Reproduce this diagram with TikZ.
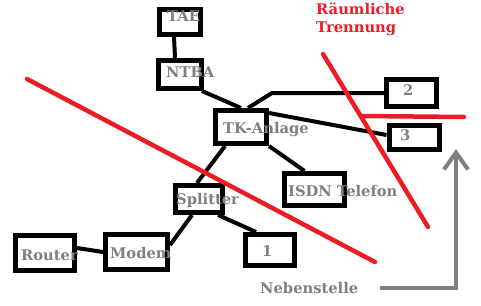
\documentclass[tikz,border=0pt]{standalone}
\usepackage{fontspec}
\setmainfont{DejaVu Serif}
\usetikzlibrary{arrows.meta, calc}
\definecolor{paintRed}{HTML}{ED1C24}
\definecolor{paintGray}{HTML}{7F7F7F}
\tikzset{
    box_black/.style={
        rectangle, draw=black, line width=5pt, inner sep=0pt
    },
    lbl_gray/.style={
        font=\bfseries\fontsize{14.7}{17}\selectfont, text=paintGray,
        inner sep=0pt, anchor=base west
    },
    lbl_red/.style={
        font=\bfseries\fontsize{14.7}{18}\selectfont, text=paintRed,
        inner sep=0pt, anchor=base west
    },
    link_line/.style={
        draw=black, line width=4pt
    },
    cut_red/.style={
        draw=paintRed, line width=4.5pt, line cap=round
    },
    hint_arrow/.style={
        draw=paintGray, line width=4pt, -{Straight Barb[length=17pt, width=24pt]}
    }
}
\begin{document}
\begin{tikzpicture}[x=1pt, y=-1pt]
    \useasboundingbox (0,0) rectangle (481,305);

    % Boxes (upper chain)
    \node[box_black, minimum width=41pt, minimum height=25pt] (tae) at (180,22) {};
    \node[box_black, minimum width=43pt, minimum height=28pt] (ntba) at (180,74.5) {};
    \node[box_black, minimum width=51pt, minimum height=33pt] (tk) at (241,127) {};

    % Boxes (extensions right)
    \node[box_black, minimum width=50pt, minimum height=27pt] (ext2) at (411.5,93) {};
    \node[box_black, minimum width=50pt, minimum height=24pt] (ext3) at (414,137) {};
    \node[box_black, minimum width=60pt, minimum height=32pt] (isdn) at (314.5,189.5) {};

    % Boxes (lower chain)
    \node[box_black, minimum width=47pt, minimum height=27pt] (spl) at (199,199) {};
    \node[box_black, minimum width=49pt, minimum height=31pt] (ext1) at (270,250) {};
    \node[box_black, minimum width=59pt, minimum height=35pt] (router) at (45,253) {};
    \node[box_black, minimum width=62pt, minimum height=35pt] (modem) at (136.5,252) {};

    % Labels
    \node[lbl_gray] (taetxt) at (167,22) {TAE};
    \node[lbl_gray] (ntbatxt) at (166,77) {NTBA};
    \node[lbl_gray] (tktxt) at (223,133) {TK-Anlage};
    \node[lbl_gray] (ext2txt) at (403,95) {2};
    \node[lbl_gray] (ext3txt) at (400,140) {3};
    \node[lbl_gray] (isdntxt) at (288,196) {ISDN Telefon};
    \node[lbl_gray] (spltxt) at (176,204) {Splitter};
    \node[lbl_gray] (ext1txt) at (262,256) {1};
    \node[lbl_gray] (routertxt) at (21,260) {Router};
    \node[lbl_gray] (modemtxt) at (110,258) {Modem};
    \node[lbl_gray] (nsttxt) at (260,293) {Nebenstelle};
    \node[lbl_red] (sep1txt) at (316,15) {Räumliche};
    \node[lbl_red] (sep2txt) at (316,33) {Trennung};

    % Connections
    \coordinate (bend2) at (272,93);
    \draw[link_line] ([xshift=-6pt]tae.south) -- ([xshift=-5pt]ntba.north);
    \draw[link_line] ([xshift=-2pt]ntba.south east) -- (tk.north);
    \draw[link_line] ([xshift=7pt]tk.north) -- (bend2) -- (ext2.west);
    \draw[link_line] ([yshift=14pt]tk.east) -- ([yshift=2pt]ext3.west);
    \draw[link_line] (tk.south east) -- ([xshift=-10pt]isdn.north);
    \draw[link_line] ([xshift=-16pt]tk.south) -- ([xshift=-2pt]spl.north);
    \draw[link_line] ([xshift=19pt]spl.south) -- ([xshift=-14pt]ext1.north);
    \draw[link_line] ([xshift=-7pt]spl.south) -- ([yshift=7pt]modem.east);
    \draw[link_line] ([yshift=5pt]router.east) -- (modem.west);

    % Separation lines
    \draw[cut_red] (27,79) -- (375,262);
    \draw[cut_red] (323,54) -- (428,227);
    \draw[cut_red] (363,116) -- (464,117);

    % Hint arrow
    \coordinate (hinttip) at (456,149);
    \draw[hint_arrow] ([xshift=22pt]nsttxt.base east) ++(0,-5) -| (hinttip);
\end{tikzpicture}
\end{document}
